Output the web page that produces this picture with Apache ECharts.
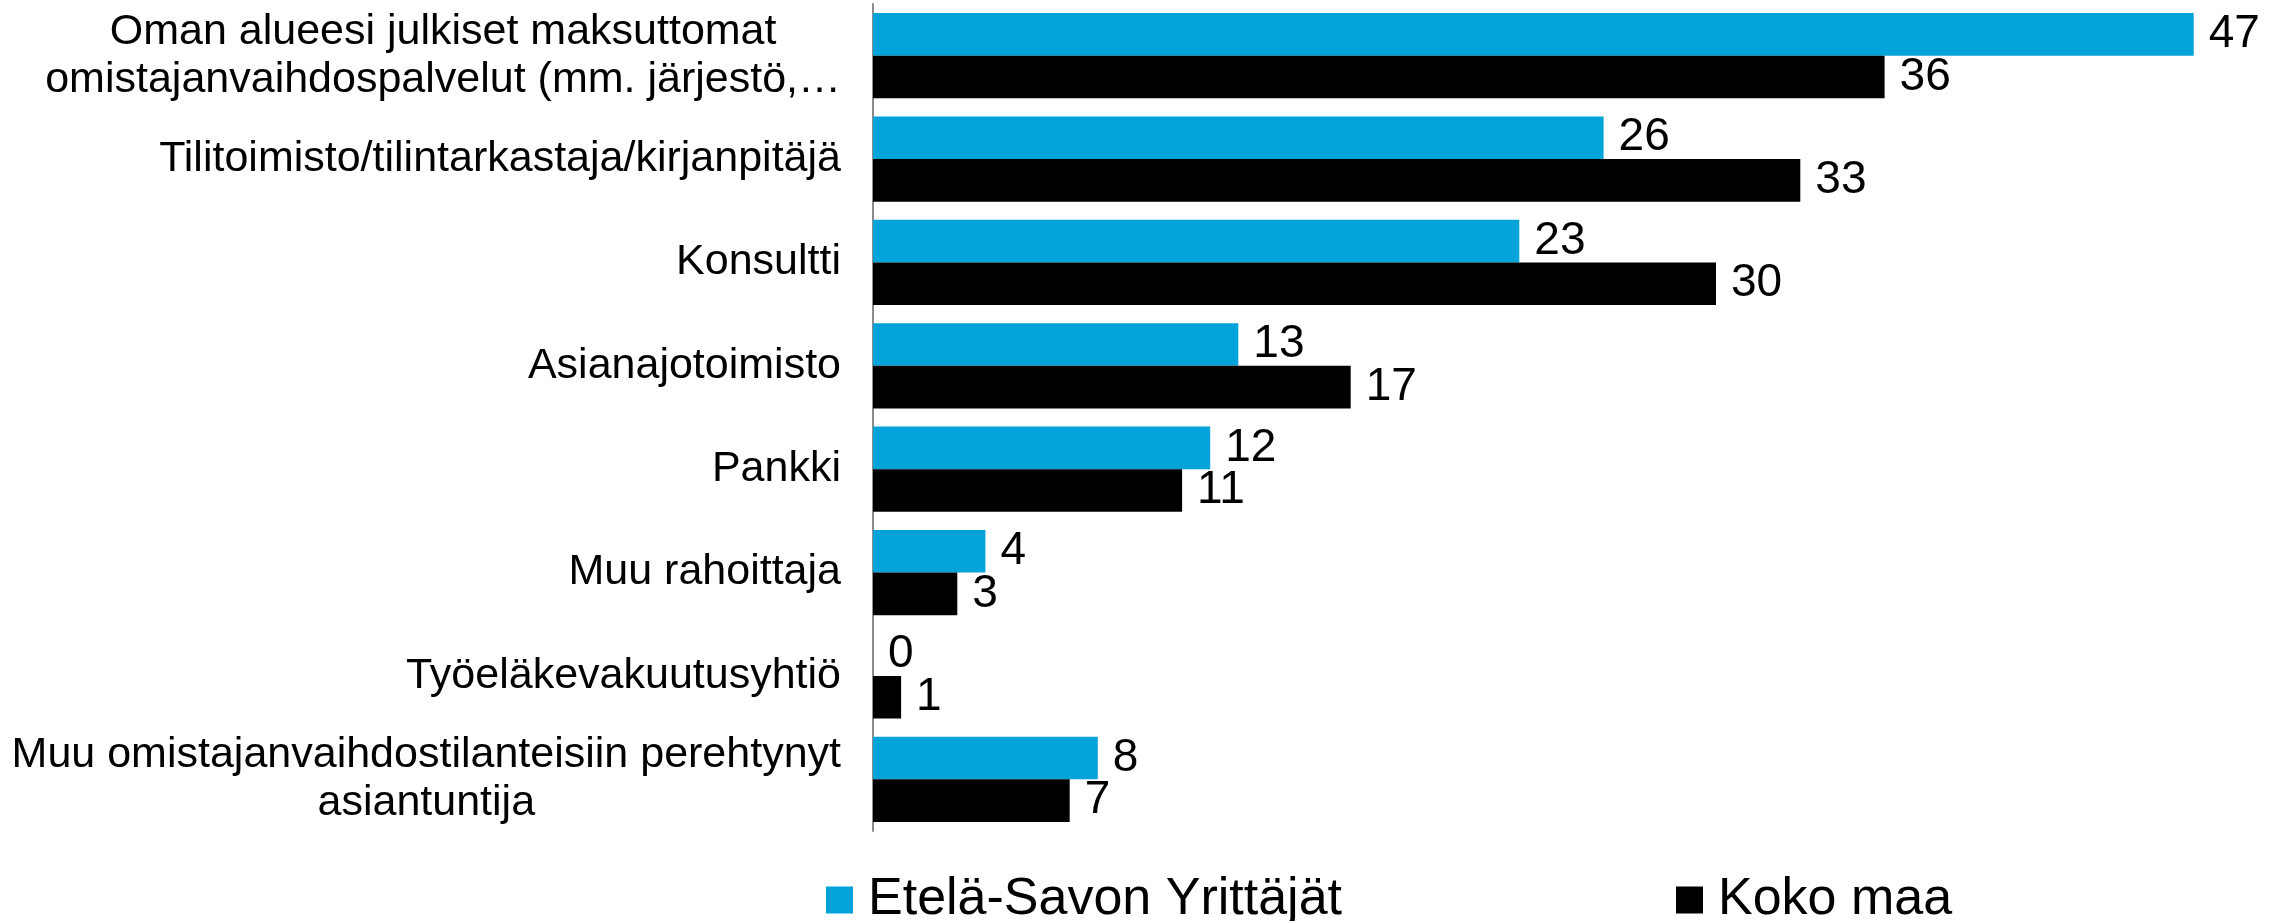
<!DOCTYPE html>
<html>
<head>
<meta charset="utf-8">
<script src="https://cdn.jsdelivr.net/npm/echarts@6/dist/echarts.min.js"></script>
<style>
  html, body { margin: 0; padding: 0; background: #fff; }
  #chart { width: 2279px; height: 921px; }
</style>
</head>
<body>
<div id="chart"></div>
<script>
// kategoriat (ylhäältä alas)
const categories = [
  'Oman alueesi julkiset maksuttomat\nomistajanvaihdospalvelut (mm. järjestö,…',
  'Tilitoimisto/tilintarkastaja/kirjanpitäjä',
  'Konsultti',
  'Asianajotoimisto',
  'Pankki',
  'Muu rahoittaja',
  'Työeläkevakuutusyhtiö',
  'Muu omistajanvaihdostilanteisiin perehtynyt\nasiantuntija'
];
const seriesNames = ['Etelä-Savon Yrittäjät', 'Koko maa'];
const etelaSavo = [47, 26, 23, 13, 12, 4, 0, 8];
const kokoMaa = [36, 33, 30, 17, 11, 3, 1, 7];

const FONT = "'Liberation Sans', Arial, sans-serif";
const BLUE = '#02A3D9';
const BLACK = '#000000';

const labelStyle = {
  show: true,
  position: 'right',
  distance: 15,
  color: '#000',
  fontFamily: FONT,
  fontSize: 46
};

const legendText = { fontFamily: FONT, fontSize: 52, lineHeight: 52, color: '#000', padding: [0, 0, 0, 10] };

const chart = echarts.init(document.getElementById('chart'));

chart.setOption({
  animation: false,
  grid: {
    left: 873,
    right: 1,
    top: 4,
    bottom: 90,
    containLabel: false,
    outerBoundsMode: 'none'
  },
  legend: [
    {
      data: [seriesNames[0]],
      left: 821,
      top: 869,
      itemWidth: 27,
      itemHeight: 27,
      icon: 'rect',
      textStyle: legendText
    },
    {
      data: [seriesNames[1]],
      left: 1671,
      top: 869,
      itemWidth: 27,
      itemHeight: 27,
      icon: 'rect',
      textStyle: legendText
    }
  ],
  xAxis: {
    type: 'value',
    min: 0,
    max: 50,
    show: false
  },
  yAxis: {
    type: 'category',
    inverse: true,
    data: categories,
    axisTick: { show: false },
    axisLine: { show: true, lineStyle: { color: '#8C8C8C', width: 2 } },
    axisLabel: {
      margin: 32,
      color: '#000',
      fontFamily: FONT,
      fontSize: 43,
      lineHeight: 48,
      // monirivinen teksti keskitetään
      formatter: (value) => value.split('\n').map(s => '{c|' + s + '}').join('\n'),
      rich: {
        c: { fontFamily: FONT, fontSize: 43, lineHeight: 48, color: '#000', align: 'center' }
      }
    }
  },
  series: [
    {
      name: seriesNames[0],
      type: 'bar',
      data: etelaSavo,
      barGap: '0%',
      barCategoryGap: '17.5%',
      itemStyle: { color: BLUE },
      label: labelStyle
    },
    {
      name: seriesNames[1],
      type: 'bar',
      data: kokoMaa,
      barGap: '0%',
      barCategoryGap: '17.5%',
      itemStyle: { color: BLACK },
      label: labelStyle
    }
  ]
});
</script>
</body>
</html>
